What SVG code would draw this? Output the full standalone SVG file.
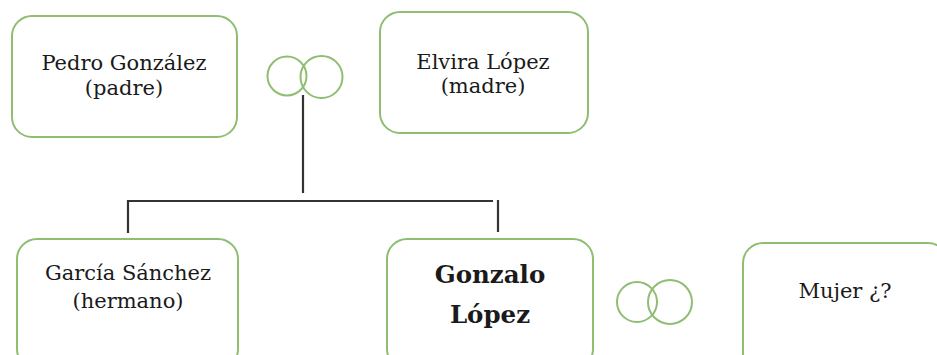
<svg xmlns="http://www.w3.org/2000/svg" width="937" height="355" viewBox="0 0 937 355">
<style>
.box{fill:#fff;stroke:#8fbd72;stroke-width:2}
.ring{fill:none;stroke:#8fbd72;stroke-width:2}
.t{font-family:'DejaVu Serif','Liberation Serif',serif;font-size:21px;fill:#1a1a1a;text-anchor:middle}
.b{font-weight:bold;font-size:24.5px}
.c{stroke:#333;stroke-width:2.2;fill:none}
</style>
<rect width="937" height="355" fill="#fff"/>
<g id="connectors">
<path class="c" d="M303,95 V193"/>
<path class="c" d="M128,233 V201 H493"/>
<path class="c" d="M498,200 V232"/>
</g>
<g id="rings-parents">
<circle class="ring" cx="287" cy="76" r="19.5"/>
<circle class="ring" cx="321.5" cy="77" r="21"/>
</g>
<g id="rings-couple">
<circle class="ring" cx="637" cy="302" r="20"/>
<circle class="ring" cx="670" cy="302" r="22"/>
</g>
<g id="pedro">
<rect class="box" x="12" y="16" width="225" height="121" rx="20"/>
<text class="t" x="124" y="70">Pedro González</text>
<text class="t" x="124" y="95">(padre)</text>
</g>
<g id="elvira">
<rect class="box" x="380" y="12" width="208" height="121" rx="20"/>
<text class="t" x="483" y="69">Elvira López</text>
<text class="t" x="483" y="93">(madre)</text>
</g>
<g id="garcia">
<rect class="box" x="17" y="239" width="221" height="130" rx="20"/>
<text class="t" x="128" y="280">García Sánchez</text>
<text class="t" x="128" y="308">(hermano)</text>
</g>
<g id="gonzalo">
<rect class="box" x="387" y="239" width="206" height="130" rx="20"/>
<text class="t b" x="490" y="283">Gonzalo</text>
<text class="t b" x="490" y="323">López</text>
</g>
<g id="mujer">
<rect class="box" x="743" y="243" width="205" height="130" rx="20"/>
<text class="t" x="845" y="298">Mujer ¿?</text>
</g>
</svg>
